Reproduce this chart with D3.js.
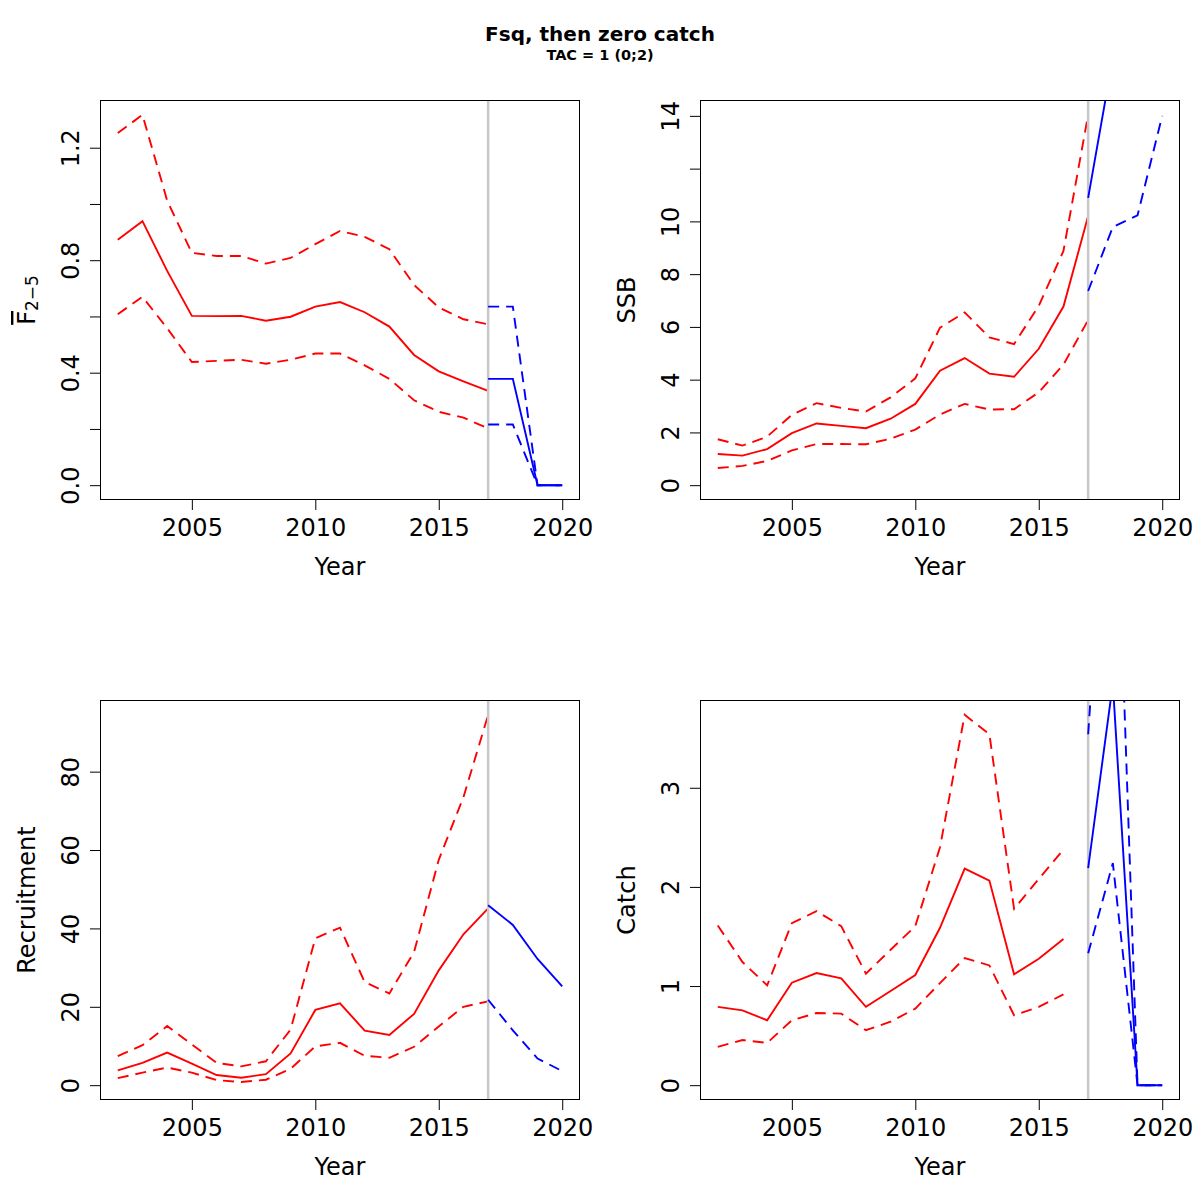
<!DOCTYPE html>
<html>
<head>
<meta charset="utf-8">
<script src="https://cdn.jsdelivr.net/npm/d3@7"></script>
<style>
  body { margin: 0; background: #fff; }
  text { font-family: "DejaVu Sans", sans-serif; fill: #000; }
</style>
</head>
<body>
<svg id="chart" width="1200" height="1200"></svg>
<script>
// historical years and projection years
var histYears = [2002, 2003, 2004, 2005, 2006, 2007, 2008, 2009, 2010, 2011, 2012, 2013, 2014, 2015, 2016, 2017];
var catchYears = [2002, 2003, 2004, 2005, 2006, 2007, 2008, 2009, 2010, 2011, 2012, 2013, 2014, 2015, 2016];
var projYears = [2017, 2018, 2019, 2020];
var yearTicks = [2005, 2010, 2015, 2020];
var cutYear = 2017;

// Fbar 2-5
var fbarMed  = [0.873, 0.939, 0.762, 0.602, 0.601, 0.602, 0.585, 0.599, 0.635, 0.651, 0.615, 0.564, 0.463, 0.405, 0.369, 0.335];
var fbarLow  = [0.608, 0.670, 0.558, 0.438, 0.442, 0.446, 0.432, 0.446, 0.468, 0.468, 0.426, 0.378, 0.302, 0.261, 0.240, 0.202];
var fbarHigh = [1.252, 1.317, 1.012, 0.826, 0.815, 0.815, 0.788, 0.808, 0.857, 0.904, 0.883, 0.839, 0.712, 0.632, 0.590, 0.572];
var fbarProjMed  = [0.378, 0.378, 0, 0];
var fbarProjLow  = [0.216, 0.216, 0, 0];
var fbarProjHigh = [0.635, 0.635, 0, 0];
var fbarTicks = [0, 0.2, 0.4, 0.6, 0.8, 1.0, 1.2];
var fbarTickLabels = ["0.0", "", "0.4", "", "0.8", "", "1.2"];

// SSB
var ssbMed  = [1.18, 1.12, 1.37, 1.97, 2.34, 2.25, 2.16, 2.52, 3.08, 4.34, 4.82, 4.23, 4.11, 5.17, 6.77, 10.2];
var ssbLow  = [0.65, 0.73, 0.92, 1.32, 1.56, 1.56, 1.55, 1.76, 2.11, 2.68, 3.08, 2.87, 2.88, 3.52, 4.57, 6.26];
var ssbHigh = [1.74, 1.50, 1.84, 2.67, 3.11, 2.93, 2.79, 3.33, 4.05, 5.97, 6.55, 5.60, 5.35, 6.80, 8.88, 14.04];
// 2019-2020 median and the whole upper band run off the top of the panel (estimates)
var ssbProjMed  = [10.89, 16.2, 21, 26];
var ssbProjLow  = [7.36, 9.79, 10.23, 14.0];
var ssbProjHigh = [16.5, 26, 34, 40];
var ssbTicks = [0, 2, 4, 6, 8, 10, 12, 14];
var ssbTickLabels = ["0", "2", "4", "6", "8", "10", "", "14"];

// Recruitment
var recMed  = [3.8, 5.7, 8.3, 5.5, 2.6, 1.9, 2.8, 8.1, 19.2, 20.9, 13.9, 12.8, 18.2, 29.3, 38.5, 45.1];
var recLow  = [1.8, 3.2, 4.5, 3.2, 1.3, 0.8, 1.4, 4.2, 9.9, 10.8, 7.5, 7.0, 9.8, 15.0, 20.0, 21.4];
var recHigh = [7.4, 10.2, 15.1, 10.4, 5.7, 4.8, 6.1, 14.2, 37.5, 40.2, 26.3, 23.4, 34.0, 57.5, 73.5, 94.5];
var recProjMed  = [45.9, 40.9, 32.2, 25.2];
var recProjLow  = [21.8, 14.0, 6.8, 3.6];
var recProjHigh = [104, 112, 110, 106]; // off the top of the panel (estimates)
var recTicks = [0, 20, 40, 60, 80];
var recTickLabels = ["0", "20", "40", "60", "80"];

// Catch
var catchMed  = [0.79, 0.755, 0.655, 1.034, 1.131, 1.078, 0.79, 0.95, 1.111, 1.588, 2.185, 2.064, 1.118, 1.276, 1.474];
var catchLow  = [0.386, 0.456, 0.426, 0.655, 0.728, 0.722, 0.554, 0.64, 0.772, 1.03, 1.282, 1.208, 0.705, 0.789, 0.916];
var catchHigh = [1.611, 1.242, 1.007, 1.635, 1.755, 1.604, 1.125, 1.366, 1.604, 2.40, 3.736, 3.54, 1.779, 2.08, 2.377];
var catchProjMed  = [2.19, 4.05, 0, 0];
var catchProjLow  = [1.33, 2.24, 0, 0];
var catchProjHigh = [3.54, 7.2, 0, 0];
var catchTicks = [0, 1, 2, 3];
var catchTickLabels = ["0", "1", "2", "3"];

var svg = d3.select("#chart");
svg.append("rect").attr("width", 1200).attr("height", 1200).attr("fill", "#fff");

svg.append("text").attr("x", 600).attr("y", 40.5)
   .attr("text-anchor", "middle").style("font-size", "20px").style("font-weight", "bold")
   .text("Fsq, then zero catch");
svg.append("text").attr("x", 600).attr("y", 60)
   .attr("text-anchor", "middle").style("font-size", "14.5px").style("font-weight", "bold")
   .text("TAC = 1 (0;2)");

var panels = [
  { id: "fbar", left: 100, top: 100, ylab: "F", years: histYears,
    med: fbarMed, low: fbarLow, high: fbarHigh,
    pmed: fbarProjMed, plow: fbarProjLow, phigh: fbarProjHigh,
    ticks: fbarTicks, labels: fbarTickLabels },
  { id: "ssb", left: 700, top: 100, ylab: "SSB", years: histYears,
    med: ssbMed, low: ssbLow, high: ssbHigh,
    pmed: ssbProjMed, plow: ssbProjLow, phigh: ssbProjHigh,
    ticks: ssbTicks, labels: ssbTickLabels },
  { id: "rec", left: 100, top: 700, ylab: "Recruitment", years: histYears,
    med: recMed, low: recLow, high: recHigh,
    pmed: recProjMed, plow: recProjLow, phigh: recProjHigh,
    ticks: recTicks, labels: recTickLabels },
  { id: "catch", left: 700, top: 700, ylab: "Catch", years: catchYears,
    med: catchMed, low: catchLow, high: catchHigh,
    pmed: catchProjMed, plow: catchProjLow, phigh: catchProjHigh,
    ticks: catchTicks, labels: catchTickLabels }
];

var W = 480, H = 400;
var fontSize = "24px";

panels.forEach(function(p) {
  var g = svg.append("g").attr("transform", "translate(" + p.left + "," + p.top + ")");

  // R style limits: 4% padding on both sides
  var xmin = d3.min(p.years.concat(projYears)), xmax = d3.max(p.years.concat(projYears));
  var xpad = (xmax - xmin) * 0.04;
  var x = d3.scaleLinear().domain([xmin - xpad, xmax + xpad]).range([0, W]);

  var ymin = 0, ymax = d3.max(p.high);
  var ypad = (ymax - ymin) * 0.04;
  var y = d3.scaleLinear().domain([ymin - ypad, ymax + ypad]).range([H, 0]);

  svg.append("clipPath").attr("id", "clip-" + p.id)
     .append("rect").attr("width", W).attr("height", H);

  var plot = g.append("g").attr("clip-path", "url(#clip-" + p.id + ")");

  function draw(years, vals, color, dashed) {
    var line = d3.line().x(function(d, i) { return x(years[i]); }).y(function(d) { return y(d); });
    plot.append("path").datum(vals)
        .attr("d", line)
        .attr("fill", "none")
        .attr("stroke", color)
        .attr("stroke-width", 1.9)
        .attr("stroke-dasharray", dashed ? "11,7" : null);
  }

  draw(p.years, p.med, "#ff0000", false);
  draw(p.years, p.low, "#ff0000", true);
  draw(p.years, p.high, "#ff0000", true);

  plot.append("line")
      .attr("x1", x(cutYear)).attr("x2", x(cutYear))
      .attr("y1", 0).attr("y2", H)
      .attr("stroke", "#c8c8c8").attr("stroke-width", 2.5);

  draw(projYears, p.pmed, "#0000ff", false);
  draw(projYears, p.plow, "#0000ff", true);
  draw(projYears, p.phigh, "#0000ff", true);

  // box
  g.append("rect").attr("x", 0.5).attr("y", 0.5).attr("width", W - 1).attr("height", H - 1)
   .attr("fill", "none").attr("stroke", "#000").attr("stroke-width", 1);

  // x axis
  var xAxis = d3.axisBottom(x).tickValues(yearTicks).tickSize(10).tickSizeOuter(0)
                .tickFormat(d3.format("d"));
  var gx = g.append("g").attr("transform", "translate(0," + H + ")").call(xAxis);
  gx.select(".domain").remove();
  gx.selectAll(".tick line").attr("stroke", "#000");
  gx.selectAll(".tick text").attr("y", 36).attr("dy", null)
    .style("font-size", fontSize).style("font-family", "DejaVu Sans");

  // y axis
  var yAxis = d3.axisLeft(y).tickValues(p.ticks).tickSize(10).tickSizeOuter(0)
                .tickFormat(function(d, i) { return p.labels[i]; });
  var gy = g.append("g").call(yAxis);
  gy.select(".domain").remove();
  gy.selectAll(".tick line").attr("stroke", "#000");
  gy.selectAll(".tick text")
    .attr("x", null).attr("dy", null)
    .attr("transform", "translate(-21.5,0) rotate(-90)")
    .attr("text-anchor", "middle")
    .style("font-size", fontSize).style("font-family", "DejaVu Sans");

  // x title
  g.append("text").attr("x", W / 2).attr("y", H + 75)
   .attr("text-anchor", "middle").style("font-size", fontSize).text("Year");

  // y title
  var yt = g.append("text")
    .attr("transform", "translate(-65," + (H / 2) + ") rotate(-90)")
    .attr("text-anchor", "middle").style("font-size", fontSize);
  if (p.ylab === "F") {
    yt.append("tspan").style("text-decoration", "overline").text("F");
    yt.append("tspan").style("font-size", "17px").attr("dy", 3).text("2\u22125");
  } else {
    yt.text(p.ylab);
  }
});
</script>
</body>
</html>
